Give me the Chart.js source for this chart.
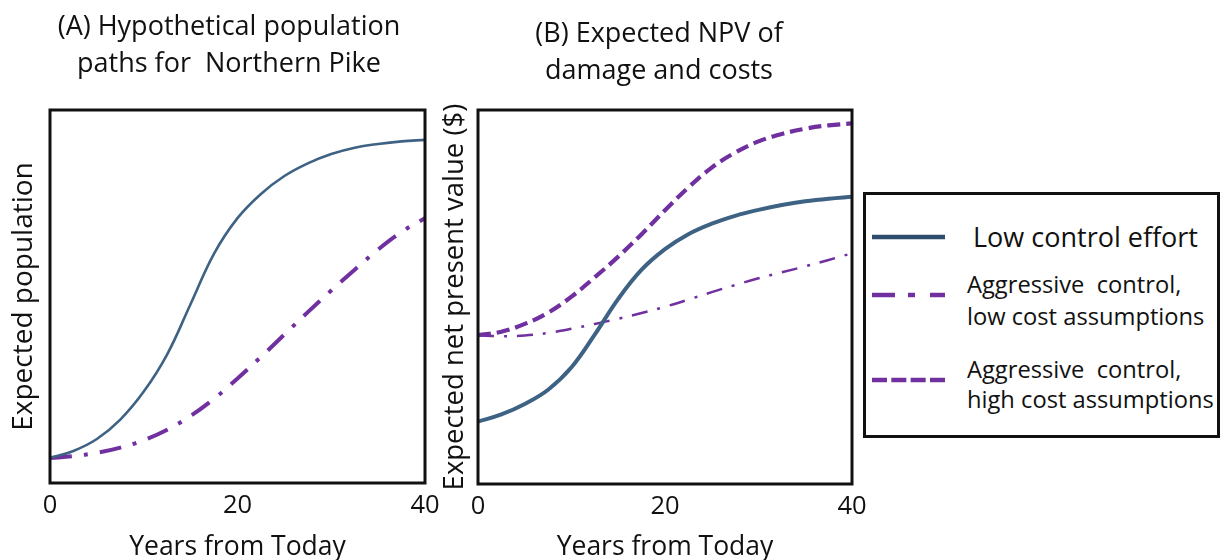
<!DOCTYPE html>
<html><head><meta charset="utf-8">
<script src="https://cdn.jsdelivr.net/npm/chart.js@4"></script>
<style>
html,body{margin:0;padding:0;background:#fff;}
body{width:1223px;height:560px;position:relative;overflow:hidden;font-family:"Open Sans",sans-serif;}
.wrap{position:absolute;top:0;height:560px;}
#legend{position:absolute;left:863px;top:192px;width:357px;height:246px;border:3px solid #111;box-sizing:border-box;background:#fff;}
#legend .t{position:absolute;font-size:23.7px;color:#111;white-space:pre;line-height:30px;}
#legend svg{position:absolute;left:0;top:0;}
</style></head><body>
<div class="wrap" style="left:0;width:458px"><canvas id="cA"></canvas></div>
<div class="wrap" style="left:436px;width:446px"><canvas id="cB"></canvas></div>
<div id="legend">
  <svg width="351" height="240">
    <line x1="6" y1="42" x2="79" y2="42" stroke="#2f4c6e" stroke-width="4.5"/>
    <line x1="6" y1="100" x2="29" y2="100" stroke="#7030a0" stroke-width="4.5"/>
    <line x1="42" y1="100" x2="49" y2="100" stroke="#7030a0" stroke-width="4.5"/>
    <line x1="64" y1="100" x2="79" y2="100" stroke="#7030a0" stroke-width="4.5"/>
    <line x1="6" y1="185" x2="79" y2="185" stroke="#7030a0" stroke-width="4.5" stroke-dasharray="15 4.33"/>
  </svg>
  <div class="t" style="left:107px;top:27px;font-size:27px">Low control effort</div>
  <div class="t" style="left:101px;top:74px">Aggressive  control,</div>
  <div class="t" style="left:101px;top:106px">low cost assumptions</div>
  <div class="t" style="left:101px;top:159px">Aggressive  control,</div>
  <div class="t" style="left:101px;top:189px">high cost assumptions</div>
</div>
<script>
// ---- data ----
const years = [0, 2.5, 5, 7.5, 10, 12.5, 15, 17.5, 20, 22.5, 25, 27.5, 30, 32.5, 35, 37.5, 40];
const xTicks = [0, 20, 40];
// Panel A: expected population
const popLowEffort  = [6.7, 8.6, 11.8, 17, 24.5, 34.5, 48, 61.5, 71, 77.5, 82.3, 85.7, 88.2, 89.9, 90.9, 91.6, 92];
const popAggressive = [6.7, 7.2, 8.1, 9.5, 11.5, 14.3, 18, 22.6, 28, 33.8, 39.8, 45.8, 51.6, 57.2, 62.6, 67.3, 71];
// Panel B: expected NPV
const npvLowEffort    = [16.7, 18.6, 21.4, 25.2, 31.2, 40, 49.5, 57.3, 62.8, 66.8, 69.6, 71.7, 73.3, 74.6, 75.6, 76.3, 76.8];
const npvAggrLowCost  = [39.8, 39.5, 39.7, 40.4, 41.5, 42.8, 44.2, 45.7, 47.4, 49.3, 51.3, 53.2, 55, 56.6, 58.2, 59.9, 61.7];
const npvAggrHighCost = [39.8, 40.7, 42.8, 45.8, 50.1, 55.3, 60.8, 66.8, 73.2, 79.3, 84.6, 88.6, 91.6, 93.6, 95, 95.9, 96.4];

const BLUE = '#3e6283', PURPLE = '#7030a0', INK = '#111';
const FONT = '"Open Sans", sans-serif';
const pts = (xs, ys) => xs.map((x, i) => ({x, y: ys[i]}));

const frame = {
  id: 'frame',
  afterDatasetsDraw(chart) {
    const {ctx, chartArea: a} = chart;
    ctx.save();
    ctx.lineWidth = 3;
    ctx.strokeStyle = INK;
    ctx.strokeRect(a.left, a.top, a.right - a.left, a.bottom - a.top);
    ctx.restore();
  }
};

function line(data, color, width, dash) {
  return {data, borderColor: color, borderWidth: width, borderDash: dash || [],
          pointRadius: 0, fill: false, tension: 0.4, borderCapStyle: 'butt'};
}

function opts(c) {
  return {
    responsive: true, maintainAspectRatio: false, animation: false,
    layout: {padding: {left: c.leftPad, right: c.rightPad, top: 0, bottom: 0}},
    plugins: {
      legend: {display: false}, tooltip: {enabled: false},
      title: {display: true, text: c.title, color: INK,
              font: {family: FONT, size: 27, weight: 'normal', lineHeight: '37px'},
              padding: {top: c.tTop, bottom: c.tBottom}}
    },
    scales: {
      x: {type: 'linear', min: 0, max: 40,
          afterBuildTicks: s => { s.ticks = xTicks.map(v => ({value: v})); },
          ticks: {color: INK, font: {family: FONT, size: 25.5, lineHeight: '30px'}, padding: 0, maxRotation: 0},
          grid: {display: false}, border: {display: false},
          title: {display: true, text: 'Years from Today', color: INK,
                  font: {family: FONT, size: 26.5, lineHeight: '24px'}, padding: {top: 0, bottom: 1}},
          afterFit: s => { s.height = c.xHeight; }},
      y: {min: 0, max: 100, ticks: {display: false}, grid: {display: false}, border: {display: false},
          title: {display: true, text: c.yTitle, color: INK,
                  font: {family: FONT, size: c.ySize, lineHeight: '24px'}, padding: {top: c.yPad, bottom: 0}},
          afterFit: s => { s.width = c.yWidth; }}
    }
  };
}

new Chart(document.getElementById('cA'), {
  type: 'line',
  data: {datasets: [
    line(pts(years, popLowEffort), BLUE, 2.6),
    line(pts(years, popAggressive), PURPLE, 4, [22, 12, 4, 12])
  ]},
  options: opts({title: ['(A) Hypothetical population', 'paths for  Northern Pike'], tTop: 8.5, tBottom: 27.5,
                 yTitle: 'Expected population', ySize: 28, leftPad: 33, yWidth: 17, yPad: -21, xHeight: 77, rightPad: 33}),
  plugins: [frame]
});

new Chart(document.getElementById('cB'), {
  type: 'line',
  data: {datasets: [
    line(pts(years, npvLowEffort), BLUE, 4),
    line(pts(years, npvAggrLowCost), PURPLE, 2.5, [16, 10, 3, 10]),
    line(pts(years, npvAggrHighCost), PURPLE, 4.2, [13, 6])
  ]},
  options: opts({title: ['(B) Expected NPV of', 'damage and costs'], tTop: 16, tBottom: 20,
                 yTitle: 'Expected net present value ($)', ySize: 27.5, leftPad: 30, yWidth: 12, yPad: -23, xHeight: 76, rightPad: 30}),
  plugins: [frame]
});
</script>
</body></html>
